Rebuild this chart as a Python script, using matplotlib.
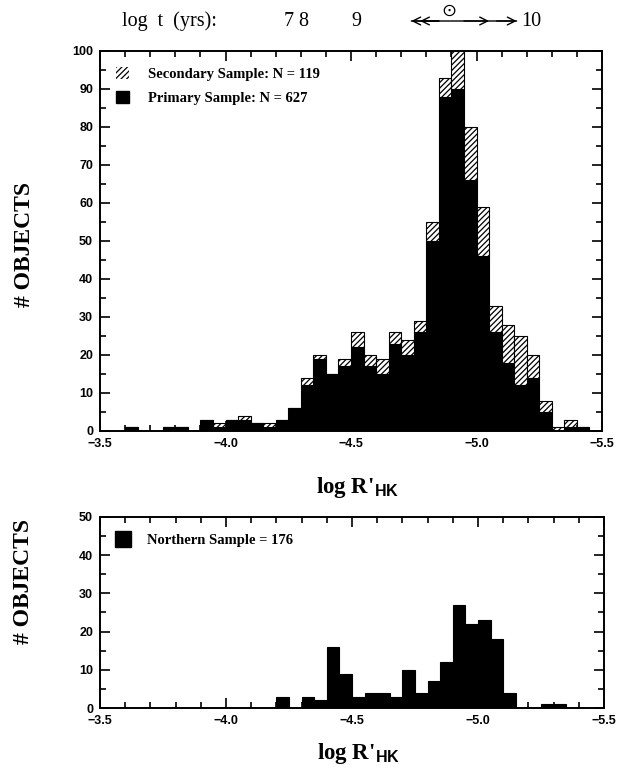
import numpy as np
import matplotlib.pyplot as plt
import matplotlib.transforms as mtransforms
from matplotlib.patches import Patch

plt.rcParams['font.family'] = 'Liberation Sans'
plt.rcParams['font.weight'] = 'bold'
plt.rcParams['hatch.linewidth'] = 0.9
plt.rcParams['mathtext.fontset'] = 'custom'
plt.rcParams['mathtext.rm'] = 'Liberation Serif:bold'
plt.rcParams['mathtext.bf'] = 'Liberation Sans:bold'

# bins of 0.05 in log R'HK, starting at -3.50 and going to -5.50
bin_width = 0.05
bin_left = -3.5 - bin_width * np.arange(40)

# top panel: primary + secondary sample counts per bin
primary = [0, 0, 1, 0, 0, 1, 1, 0, 3, 1,
           3, 3, 2, 1, 3, 6, 12, 19, 15, 17,
           22, 17, 15, 23, 20, 26, 50, 88, 90, 66,
           46, 26, 18, 12, 14, 5, 0, 1, 1, 0]
secondary = [0, 0, 0, 0, 0, 0, 0, 0, 0, 1,
             0, 1, 0, 1, 0, 0, 2, 1, 0, 2,
             4, 3, 4, 3, 4, 3, 5, 5, 11, 14,
             13, 7, 10, 13, 6, 3, 1, 2, 0, 0]

# bottom panel: northern sample
northern = [0, 0, 0, 0, 0, 0, 0, 0, 0, 0,
            0, 0, 0, 0, 3, 0, 3, 2, 16, 9,
            3, 4, 4, 3, 10, 4, 7, 12, 27, 22,
            23, 18, 4, 0, 0, 1, 1, 0, 0, 0]

# age scale along the top
age_labels = ['7', '8', '9', '10']
age_pos = [-4.25, -4.31, -4.52, -5.22]
sun_pos = -4.89
sun_range = (-4.74, -5.16)

fig = plt.figure(figsize=(6.22, 7.70), dpi=100)
ax1 = fig.add_axes([0.1608, 0.4403, 0.8071, 0.4935])
ax2 = fig.add_axes([0.1608, 0.0805, 0.8103, 0.2484])

ax1.bar(bin_left, primary, width=-bin_width, align='edge', color='black',
        edgecolor='black', linewidth=0.8)
ax1.bar(bin_left, secondary, width=-bin_width, align='edge', bottom=primary,
        color='white', edgecolor='black', hatch='//////', linewidth=0.8)
ax2.bar(bin_left, northern, width=-bin_width, align='edge', color='black',
        edgecolor='black', linewidth=0.8)

serif = 'Liberation Serif'
for ax, ymax in [(ax1, 100), (ax2, 50)]:
    ax.set_xlim(-3.5, -5.5)
    ax.set_ylim(0, ymax)
    ax.set_xticks([-3.5, -4.0, -4.5, -5.0, -5.5])
    ax.set_xticks(np.arange(-3.5, -5.51, -0.1), minor=True)
    ax.set_yticks(np.arange(0, ymax + 1, 10))
    ax.set_yticks(np.arange(0, ymax + 1, 5), minor=True)
    ax.tick_params(which='both', direction='in', top=True, right=True,
                   labelsize=9, width=1.2)
    ax.tick_params(which='major', length=7, pad=5)
    ax.tick_params(which='minor', length=4)
    for s in ax.spines.values():
        s.set_linewidth(1.4)
    ax.set_xlabel(r"log R$'_{\mathbf{HK}}$", family=serif, weight='bold', fontsize=16.5)
    ax.set_ylabel('# OBJECTS', family=serif, weight='bold', fontsize=17)

ax1.xaxis.set_label_coords(0.512, -0.115)
ax1.yaxis.set_label_coords(-0.13, 0.49)
ax2.xaxis.set_label_coords(0.512, -0.175)
ax2.yaxis.set_label_coords(-0.13, 0.66)

leg1 = ax1.legend(handles=[Patch(facecolor='white', edgecolor='black', hatch='//////', linewidth=0),
                           Patch(facecolor='black', edgecolor='black')],
                  labels=['Secondary Sample: N = 119', 'Primary Sample: N = 627'],
                  loc='upper left', frameon=False, handlelength=0.9, handleheight=0.9,
                  handletextpad=1.3, labelspacing=0.7, borderaxespad=0.5,
                  borderpad=0.6, prop={'family': serif, 'weight': 'bold', 'size': 10.5})
leg2 = ax2.legend(handles=[Patch(facecolor='black', edgecolor='black')],
                  labels=['Northern Sample = 176'],
                  loc='upper left', frameon=False, handlelength=1.1, handleheight=1.3,
                  handletextpad=1.1, borderaxespad=0.5, borderpad=0.5,
                  prop={'family': serif, 'weight': 'bold', 'size': 10.5})

# age scale above the top panel
trans = mtransforms.blended_transform_factory(ax1.transData, fig.transFigure)
y_age = 1 - 21 / 770
fig.text(122 / 622, y_age, 'log  t  (yrs):', family=serif, weight='normal',
         fontsize=14.5, va='center', ha='left')
for lab, pos in zip(age_labels, age_pos):
    ax1.text(pos, y_age, lab, transform=trans, family=serif, weight='normal',
             fontsize=14.5, va='center', ha='center', clip_on=False)
ax1.annotate('', xy=(sun_range[0], y_age), xytext=(sun_range[1], y_age),
             xycoords=trans, textcoords=trans, annotation_clip=False,
             arrowprops=dict(arrowstyle='-', lw=1.0, color='black',
                             shrinkA=0, shrinkB=0))
arrow = dict(arrowstyle='->', lw=1.0, color='black', shrinkA=0, shrinkB=0,
             mutation_scale=14)
for head, tail in [(sun_range[0], -4.85), (-4.775, -4.85), (-5.05, -4.95), (sun_range[1], -5.08)]:
    ax1.annotate('', xy=(head, y_age), xytext=(tail, y_age), xycoords=trans,
                 textcoords=trans, arrowprops=arrow, annotation_clip=False)
ax1.text(sun_pos, 1 - 11 / 770, '\u2299', transform=trans, family='DejaVu Sans',
         weight='normal', fontsize=13, va='center', ha='center', clip_on=False)

fig.savefig('out.png', dpi=100)
